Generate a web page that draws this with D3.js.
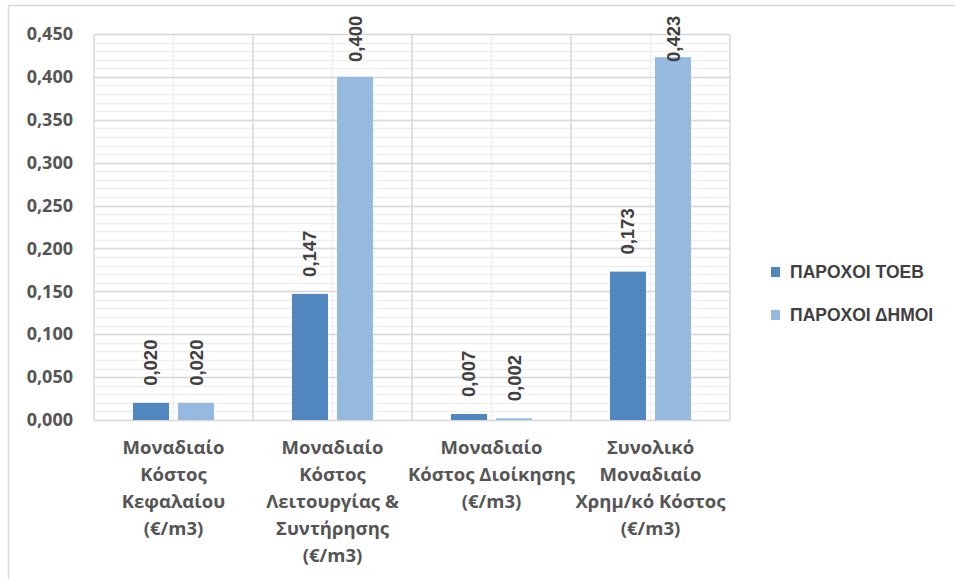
<!DOCTYPE html>
<html>
<head>
<meta charset="utf-8">
<script src="https://cdn.jsdelivr.net/npm/d3@7"></script>
<style>
  body { margin: 0; background: #fff; }
  svg { display: block; }
</style>
</head>
<body>
<div id="chart-area"></div>
<script>
// categories (one line per array item)
var categories = ["cap", "ops", "adm", "tot"];
var categoryLines = [
    ["Μοναδιαίο", "Κόστος", "Κεφαλαίου", "(€/m3)"],
    ["Μοναδιαίο", "Κόστος", "Λειτουργίας &", "Συντήρησης", "(€/m3)"],
    ["Μοναδιαίο", "Κόστος Διοίκησης", "(€/m3)"],
    ["Συνολικό", "Μοναδιαίο", "Χρημ/κό Κόστος", "(€/m3)"]
];
var seriesNames = ["ΠΑΡΟΧΟΙ ΤΟΕΒ", "ΠΑΡΟΧΟΙ ΔΗΜΟΙ"];
var toebValues = [0.020, 0.147, 0.007, 0.173];
var dimoiValues = [0.020, 0.400, 0.002, 0.423];
var yTicks = [0, 0.05, 0.1, 0.15, 0.2, 0.25, 0.3, 0.35, 0.4, 0.45];
var colors = ["#4f87be", "#96b9e0"];

var W = 955, H = 579;
var margin = {left: 94, top: 34, right: 225, bottom: 159};
var width = W - margin.left - margin.right;
var height = H - margin.top - margin.bottom;

var svg = d3.select("#chart-area")
    .append("svg")
        .attr("width", W)
        .attr("height", H);

// outer frame
svg.append("rect")
    .attr("x", 8.5)
    .attr("y", 5.5)
    .attr("width", 1000)
    .attr("height", 1000)
    .attr("fill", "none")
    .attr("stroke", "#d9d9d9")
    .attr("stroke-width", 1.5);

var g = svg.append("g")
    .attr("transform", "translate(" + margin.left + "," + margin.top + ")");

var x0 = d3.scaleBand()
    .domain(categories)
    .range([0, width])
    .padding(0);

var x1 = d3.scaleBand()
    .domain(seriesNames)
    .range([x0.bandwidth() * 0.245, x0.bandwidth() * 0.755])
    .paddingInner(0.2);

var y = d3.scaleLinear()
    .domain([0, 0.45])
    .range([height, 0]);

var fmt = function(d) { return d3.format(".3f")(d).replace(".", ","); };

// minor horizontal grid
var minor = d3.range(0, 46).map(function(i) { return i / 100; });
g.append("g").selectAll("line")
    .data(minor)
    .enter().append("line")
        .attr("x1", 0).attr("x2", width)
        .attr("y1", function(d) { return Math.round(y(d)) + 0.5; })
        .attr("y2", function(d) { return Math.round(y(d)) + 0.5; })
        .attr("stroke", "#efefef")
        .attr("stroke-width", 1.5);

// minor vertical grid at category centres
g.append("g").selectAll("line")
    .data(categories)
    .enter().append("line")
        .attr("x1", function(d) { return x0(d) + x0.bandwidth() / 2; })
        .attr("x2", function(d) { return x0(d) + x0.bandwidth() / 2; })
        .attr("y1", 0).attr("y2", height)
        .attr("stroke", "#efefef")
        .attr("stroke-width", 1.5);

// major horizontal grid
g.append("g").selectAll("line")
    .data(yTicks)
    .enter().append("line")
        .attr("x1", 0).attr("x2", width)
        .attr("y1", function(d) { return Math.round(y(d)) + 0.5; })
        .attr("y2", function(d) { return Math.round(y(d)) + 0.5; })
        .attr("stroke", "#d9d9d9")
        .attr("stroke-width", 1.5);

// major vertical grid at category borders
var borders = categories.map(function(d) { return x0(d); }).concat([width]);
g.append("g").selectAll("line")
    .data(borders)
    .enter().append("line")
        .attr("x1", function(d) { return d; })
        .attr("x2", function(d) { return d; })
        .attr("y1", 0).attr("y2", height)
        .attr("stroke", "#d9d9d9")
        .attr("stroke-width", 1.5);

// y axis labels
var yAxis = d3.axisLeft(y)
    .tickValues(yTicks)
    .tickSize(0)
    .tickPadding(21)
    .tickFormat(fmt);
var ya = g.append("g")
    .attr("class", "y axis")
    .call(yAxis);
ya.select(".domain").remove();
ya.selectAll("text")
    .attr("font-family", "'Open Sans', sans-serif")
    .attr("font-weight", "bold")
    .attr("font-size", "18px")
    .attr("fill", "#555555");

// bars
var rows = categories.map(function(c, i) {
    return {cat: c, vals: [toebValues[i], dimoiValues[i]]};
});

var groups = g.selectAll(".grp")
    .data(rows)
    .enter().append("g")
        .attr("class", "grp")
        .attr("transform", function(d) { return "translate(" + x0(d.cat) + ",0)"; });

groups.selectAll("rect")
    .data(function(d) { return d.vals.map(function(v, j) { return {s: seriesNames[j], v: v, j: j}; }); })
    .enter().append("rect")
        .attr("x", function(d) { return x1(d.s); })
        .attr("y", function(d) { return y(d.v); })
        .attr("width", x1.bandwidth())
        .attr("height", function(d) { return height - y(d.v); })
        .attr("fill", function(d) { return colors[d.j]; });

// data labels
groups.selectAll(".lbl")
    .data(function(d) { return d.vals.map(function(v, j) { return {s: seriesNames[j], v: v, j: j}; }); })
    .enter().append("text")
        .attr("class", "lbl")
        .attr("transform", function(d) {
            var cx = x1(d.s) + x1.bandwidth() / 2 + 6.5;
            var cy = Math.max(y(d.v) - 17, 28);
            return "translate(" + cx + "," + cy + ") rotate(-90)";
        })
        .attr("text-anchor", "start")
        .attr("font-family", "'Liberation Sans', Arial, sans-serif")
        .attr("font-weight", "bold")
        .attr("font-size", "18.5px")
        .attr("fill", "#404040")
        .text(function(d) { return fmt(d.v); });

// category labels
var catText = g.selectAll(".cat")
    .data(categories)
    .enter().append("text")
        .attr("class", "cat")
        .attr("text-anchor", "middle")
        .attr("font-family", "'Open Sans', sans-serif")
        .attr("font-weight", "bold")
        .attr("font-size", "18.5px")
        .attr("fill", "#555555")
        .attr("transform", function(d) { return "translate(" + (x0(d) + x0.bandwidth() / 2) + "," + (height + 34) + ")"; });

catText.selectAll("tspan")
    .data(function(d, i) { return categoryLines[i]; })
    .enter().append("tspan")
        .attr("x", 0)
        .attr("y", function(d, i) { return i * 27; })
        .text(function(d) { return d; });

// legend
var legend = svg.append("g")
    .attr("transform", "translate(771,0)");
var li = legend.selectAll(".li")
    .data(seriesNames)
    .enter().append("g")
        .attr("class", "li")
        .attr("transform", function(d, i) { return "translate(0," + (278 + i * 43) + ")"; });
li.append("rect")
    .attr("x", 0).attr("y", -11)
    .attr("width", 9).attr("height", 10)
    .attr("fill", function(d, i) { return colors[i]; });
li.append("text")
    .attr("x", 19)
    .attr("y", 0)
    .attr("font-family", "'Liberation Sans', Arial, sans-serif")
    .attr("font-weight", "bold")
    .attr("font-size", "17.5px")
    .attr("fill", "#404040")
    .text(function(d) { return d; });
</script>
</body>
</html>
